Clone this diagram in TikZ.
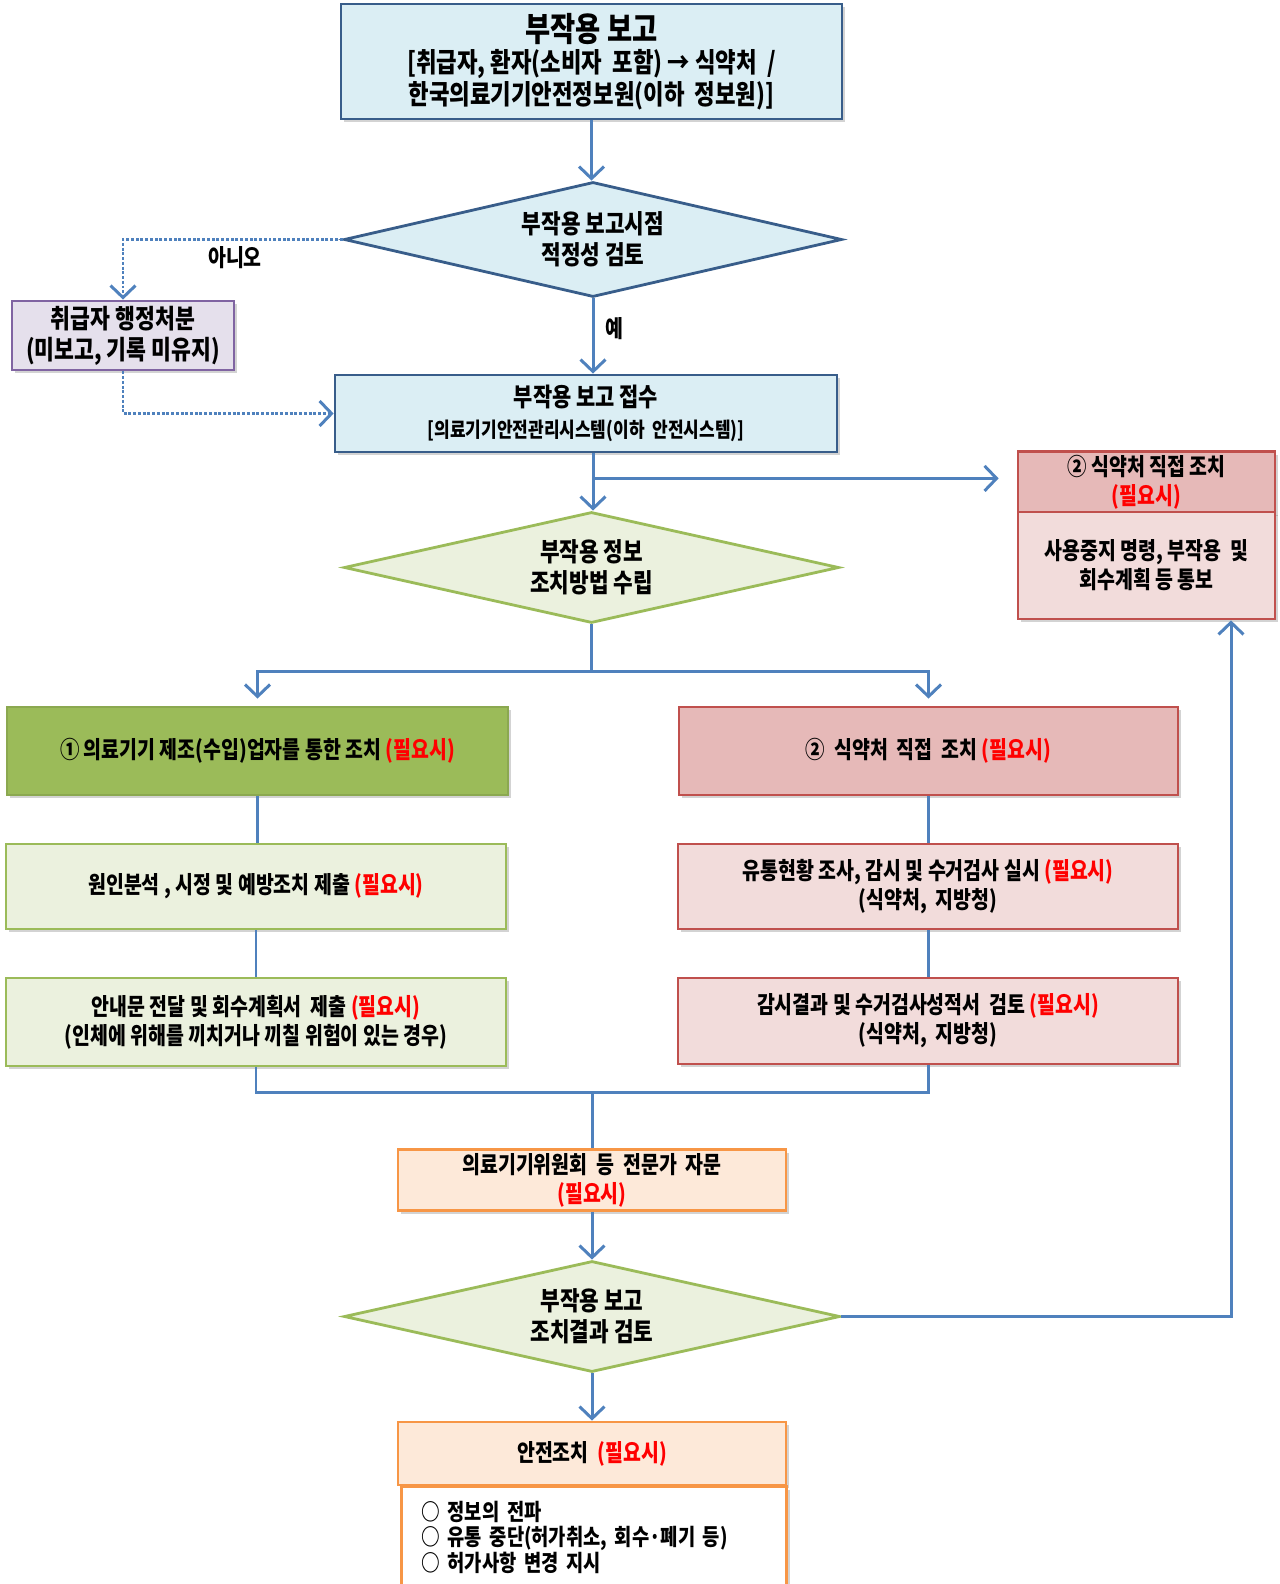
\documentclass[tikz,border=0pt]{standalone}
\usepackage{fontspec}
\setmainfont{Noto Sans CJK KR}[FakeStretch=0.82]
\usetikzlibrary{shapes.geometric,arrows.meta,shadows}
\definecolor{lnblue}{HTML}{4F81BD}
\definecolor{bluedge}{HTML}{385D8A}
\definecolor{blufill}{HTML}{DBEEF4}
\definecolor{purpedge}{HTML}{8064A2}
\definecolor{purpfill}{HTML}{E5E0EC}
\definecolor{grnedge}{HTML}{9BBB59}
\definecolor{grnfill}{HTML}{EBF1DE}
\definecolor{rededge}{HTML}{C0504D}
\definecolor{redhead}{HTML}{E6B9B8}
\definecolor{redfill}{HTML}{F2DCDB}
\definecolor{orgedge}{HTML}{F79646}
\definecolor{orgfill}{HTML}{FDE9D9}
\newcommand\needed{{\color{red}(필요시)}}
\tikzset{
	flowbox/.style={draw, line width=1.6pt, align=center, inner sep=2pt,
		font=\fontsize{13.5}{16.5}\selectfont\bfseries,
		drop shadow={shadow xshift=1.8pt, shadow yshift=-1.8pt, opacity=.35}},
	bluebox/.style={flowbox, draw=bluedge, fill=blufill},
	purpbox/.style={flowbox, draw=purpedge, fill=purpfill},
	grnbox/.style={flowbox, draw=grnedge, fill=grnfill},
	darkgrnbox/.style={flowbox, draw=grnedge!90!black, fill=grnedge},
	redbox/.style={flowbox, draw=rededge, fill=redfill},
	orgbox/.style={flowbox, draw=orgedge, fill=orgfill},
	flowdia/.style={diamond, aspect=4.3, inner sep=0pt, line width=1.6pt, align=center,
		font=\fontsize{14.8}{17.5}\selectfont\bfseries},
	link/.style={draw=lnblue, line width=1.7pt},
}
\begin{document}
\begin{tikzpicture}[x=0.02cm, y=-0.02cm, >={Straight Barb[length=2.4mm,width=5mm]}]
	\clip (0,0) rectangle (1279,1584);

	\node[bluebox, minimum width=10.02cm, minimum height=2.3cm, font=\fontsize{15.5}{18}\selectfont\bfseries] (report) at (591.5,61.5)
		{{\fontsize{19}{24}\selectfont 부작용 보고}\\{}[취급자, 환자(소비자 \ 포함) → 식약처 \ /\\한국의료기기안전정보원(이하 \ 정보원)]};
	\node[flowdia, draw=bluedge, fill=blufill, minimum width=9.96cm, minimum height=2.3cm] (check) at (593,239.5)
		{부작용 보고시점\\적정성 검토};
	\node[purpbox, minimum width=4.44cm, minimum height=1.38cm, font=\fontsize{15}{17.5}\selectfont\bfseries] (admin) at (123,335.5)
		{취급자 행정처분\\(미보고, 기록 미유지)};
	\node[bluebox, minimum width=10.04cm, minimum height=1.54cm, font=\fontsize{14.5}{17.5}\selectfont\bfseries] (receipt) at (586,413.5)
		{부작용 보고 접수\\{}{\fontsize{11.8}{14}\selectfont [의료기기안전관리시스템(이하 \ 안전시스템)]}};
	\node[redbox, fill=redhead, minimum width=5.14cm, minimum height=1.2cm] (dtop) at (1146.5,482)
		{② 식약처 직접 조치\\\needed};
	\node[redbox, minimum width=5.14cm, minimum height=2.14cm] (dbody) at (1146.5,565.5)
		{사용중지 명령, 부작용 \ 및\\회수계획 등 통보};
	\node[flowdia, draw=grnedge, fill=grnfill, minimum width=9.9cm, minimum height=2.22cm] (plan) at (591.5,567.5)
		{부작용 정보\\조치방법 수립};

	\node[darkgrnbox, minimum width=10.02cm, minimum height=1.76cm] (maker) at (257.5,751)
		{① 의료기기 제조(수입)업자를 통한 조치 \needed};
	\node[grnbox, minimum width=10cm, minimum height=1.7cm] (cause) at (256,886.5)
		{원인분석 , 시정 및 예방조치 제출 \needed};
	\node[grnbox, minimum width=10cm, minimum height=1.76cm] (notice) at (256,1022)
		{안내문 전달 및 회수계획서 \ 제출 \needed\\(인체에 위해를 끼치거나 끼칠 위험이 있는 경우)};
	\node[redbox, fill=redhead, minimum width=9.98cm, minimum height=1.76cm] (mfds) at (928.5,751)
		{② \ 식약처 \ 직접 \ 조치 \needed};
	\node[redbox, minimum width=10cm, minimum height=1.7cm] (survey) at (928,886.5)
		{유통현황 조사, 감시 및 수거검사 실시 \needed\\(식약처, \ 지방청)};
	\node[redbox, minimum width=10cm, minimum height=1.72cm] (review) at (928,1021)
		{감시결과 및 수거검사성적서 \ 검토 \needed\\(식약처, \ 지방청)};

	\node[orgbox, minimum width=7.76cm, minimum height=1.2cm] (expert) at (592,1180)
		{의료기기위원회 \ 등 \ 전문가 \ 자문\\\needed};
	\node[flowdia, draw=grnedge, fill=grnfill, minimum width=9.92cm, minimum height=2.22cm] (result) at (592,1316.5)
		{부작용 보고\\조치결과 검토};
	\node[orgbox, minimum width=7.76cm, minimum height=1.26cm] (safety) at (592,1453.5)
		{안전조치 \ \needed};
	\node[flowbox, draw=orgedge, fill=white, anchor=north west, text width=6.9cm, inner xsep=0.4cm, align=left,
		minimum height=2.5cm, font=\fontsize{13}{14.5}\selectfont\bfseries] (steps) at (400,1485)
		{○ 정보의 전파\\○ 유통 중단(허가취소, 회수·폐기 등)\\○ 허가사항 변경 지시\\~};

	\path (receipt.south -| check.south) ++(0,25) coordinate (split);
	\path (plan.south) ++(0,47) coordinate (fork);
	\path (notice.south) ++(0,25) coordinate (join);
	\coordinate (ret) at (1231,0);

	\draw[link,->] (report.south) -- (report.south |- check.north);
	\draw[link,->] (check.south) -- node[right, xshift=3pt, yshift=4pt, font=\fontsize{13.5}{16}\selectfont\bfseries] {예} (check.south |- receipt.north);
	\draw[link,densely dotted,->] (check.west) -| node[pos=0.245, below, font=\fontsize{13.5}{16}\selectfont\bfseries] {아니오} (admin.north);
	\draw[link,densely dotted,->] (admin.south) |- (receipt.west);
	\draw[link,->] (receipt.south -| split) -- (split |- plan.north);
	\draw[link,->,shorten >=0.36cm] (split) -- (split -| dtop.west);
	\draw[link] (plan.south) -- (fork);
	\draw[link,->,shorten >=4pt] (fork) -| (maker.north);
	\draw[link,->,shorten >=4pt] (fork) -| (mfds.north);
	\draw[link] (maker.south) -- (maker.south |- cause.north);
	\draw[link] (cause.south) -- (notice.north);
	\draw[link] (mfds.south) -- (mfds.south |- survey.north);
	\draw[link] (survey.south) -- (review.north);
	\draw[link] (notice.south) -- (join) -| (review.south);
	\draw[link] (join -| expert.north) -- (expert.north);
	\draw[link,->] (expert.south) -- (result.north);
	\draw[link,->] (result.east) -| (ret |- dbody.south);
	\draw[link,->] (result.south) -- (safety.north);
\end{tikzpicture}
\end{document}
